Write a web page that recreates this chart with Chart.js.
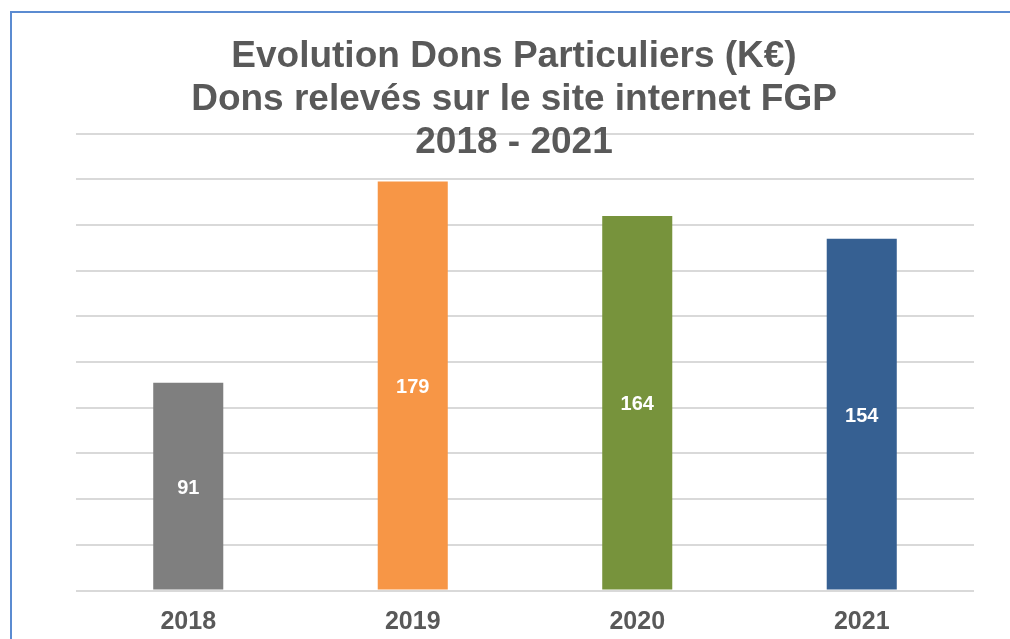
<!DOCTYPE html>
<html>
<head>
<meta charset="utf-8">
<script src="https://cdn.jsdelivr.net/npm/chart.js@4"></script>
<style>
  html, body { margin: 0; padding: 0; background: #fff; }
  #wrap { position: relative; width: 1010px; height: 639px; overflow: hidden; }
  #frame { position: absolute; left: 10px; top: 11px; width: 1200px; height: 800px;
           border-left: 2px solid #5b8bd1; border-top: 2px solid #5b8bd1; }
  canvas { position: absolute; left: 0; top: 0; }
</style>
</head>
<body>
<div id="wrap">
  <div id="frame"></div>
  <canvas id="donsChart" width="1010" height="639"></canvas>
</div>
<script>
(function () {
    // Dons particuliers (K€) par année
    const labels = ['2018', '2019', '2020', '2021'];
    const dons = [91, 179, 164, 154];
    const barColors = ['#7f7f7f', '#f79646', '#77933c', '#366092'];
    const titleLines = ['Evolution Dons Particuliers (K€)', 'Dons relevés sur le site internet FGP', '2018 - 2021'];

    // valeurs au milieu des barres
    const barValues = {
        id: 'barValues',
        afterDatasetsDraw(chart) {
            const ctx = chart.ctx;
            const meta = chart.getDatasetMeta(0);
            ctx.save();
            ctx.fillStyle = '#ffffff';
            ctx.font = 'bold 20px "Liberation Sans", Arial, sans-serif';
            ctx.textAlign = 'center';
            ctx.textBaseline = 'middle';
            meta.data.forEach(function (bar, i) {
                ctx.fillText(String(dons[i]), bar.x, (bar.y + bar.base) / 2 + 2);
            });
            ctx.restore();
        }
    };

    const ctx = document.getElementById('donsChart').getContext('2d');
    new Chart(ctx, {
        type: 'bar',
        data: {
            labels: labels,
            datasets: [{
                data: dons,
                backgroundColor: barColors,
                borderWidth: 0,
                barPercentage: 0.312,
                categoryPercentage: 1
            }]
        },
        options: {
            responsive: false,
            animation: false,
            layout: {
                padding: { left: 54, right: 36, top: 0, bottom: 0 }
            },
            plugins: {
                legend: { display: false },
                tooltip: { enabled: false },
                title: {
                    display: true,
                    text: titleLines,
                    color: '#595959',
                    font: { family: '"Liberation Sans", Arial, sans-serif', size: 37, weight: 'bold', lineHeight: 1.15 },
                    padding: { top: 36, bottom: -30 }
                }
            },
            scales: {
                x: {
                    afterFit: function (scale) { scale.height = 48.5; },
                    grid: { display: false, drawTicks: false },
                    border: { display: false },
                    ticks: {
                        color: '#595959',
                        padding: 17,
                        font: { family: '"Liberation Sans", Arial, sans-serif', size: 25, weight: 'bold' }
                    }
                },
                y: {
                    min: 0,
                    max: 200,
                    afterFit: function (scale) { scale.width = 22; },
                    grid: { color: '#d9d9d9', lineWidth: 2, drawTicks: false },
                    border: { display: false },
                    ticks: { display: false, stepSize: 20 }
                }
            }
        },
        plugins: [barValues]
    });
})();
</script>
</body>
</html>
